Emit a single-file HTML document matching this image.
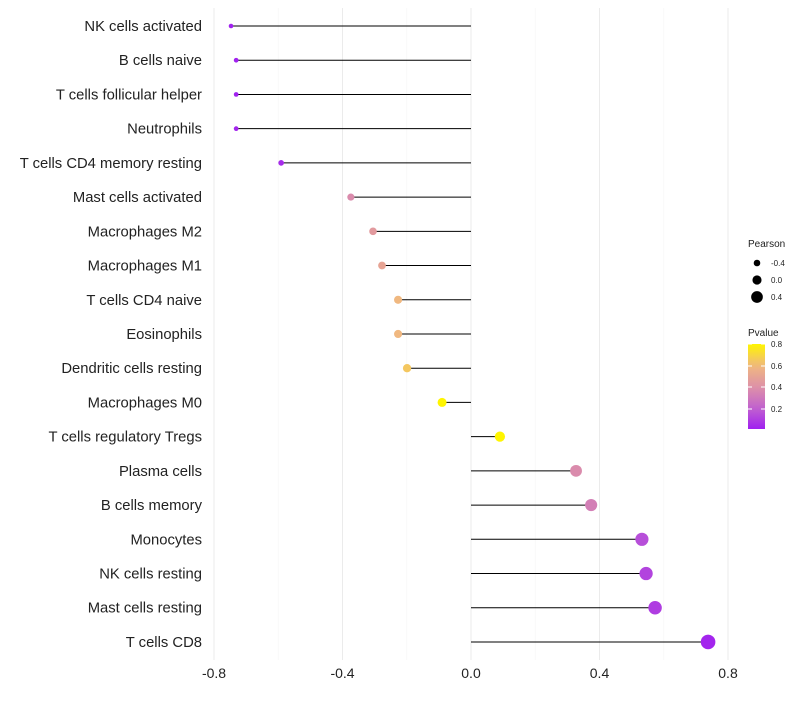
<!DOCTYPE html>
<html><head><meta charset="utf-8"><style>
body{margin:0;background:#fff;font-family:"Liberation Sans",sans-serif;}
</style></head><body>
<svg id="chart" width="800" height="700" xmlns="http://www.w3.org/2000/svg"></svg>
<script>
const categories=["NK cells activated","B cells naive","T cells follicular helper","Neutrophils","T cells CD4 memory resting","Mast cells activated","Macrophages M2","Macrophages M1","T cells CD4 naive","Eosinophils","Dendritic cells resting","Macrophages M0","T cells regulatory  Tregs ","Plasma cells","B cells memory","Monocytes","NK cells resting","Mast cells resting","T cells CD8"];
const pearson=[-0.747,-0.731,-0.731,-0.731,-0.591,-0.374,-0.305,-0.277,-0.227,-0.227,-0.199,-0.090,0.090,0.327,0.374,0.532,0.545,0.573,0.738];
const pvalue=[0.02,0.02,0.02,0.03,0.05,0.38,0.45,0.5,0.6,0.6,0.65,0.8,0.8,0.38,0.33,0.15,0.12,0.1,0.03];
const xTicks=[-0.8,-0.4,0.0,0.4,0.8];
const xTickLabels=["-0.8","-0.4","0.0","0.4","0.8"];
const svg=document.getElementById('chart');
const NS="http://www.w3.org/2000/svg";
const x=v=>471+v*321.25;
const y=i=>26+i*34.22;
const rad=v=>2.3+(v+0.75)/1.49*5;
const stops=[[0.015,[160,32,240]],[0.2,[192,96,208]],[0.4,[221,144,168]],[0.6,[240,184,128]],[0.8,[255,245,0]]];
function col(p){p=Math.max(0.015,Math.min(0.8,p));for(let k=1;k<stops.length;k++){if(p<=stops[k][0]){const a=stops[k-1],b=stops[k];const t=(p-a[0])/(b[0]-a[0]);return `rgb(${[0,1,2].map(j=>Math.round(a[1][j]+(b[1][j]-a[1][j])*t)).join(',')})`;}}return 'rgb(255,245,0)';}
function mk(tag,attrs,parent){const e=document.createElementNS(NS,tag);for(const k in attrs)e.setAttribute(k,attrs[k]);(parent||svg).appendChild(e);return e;}
for(let v=-0.8;v<=0.81;v+=0.2){const l=mk('line',{x1:x(v),x2:x(v),y1:8,y2:660,stroke:Math.abs(Math.round(v*10))%4===0?'#ebebeb':'#f5f5f5','stroke-width':Math.abs(Math.round(v*10))%4===0?1:0.6});

}
xTicks.forEach((v,i)=>{const t=mk('text',{x:x(v),y:678,'text-anchor':'middle','font-size':14,fill:'#222'});t.textContent=xTickLabels[i];

});
categories.forEach((c,i)=>{
const t=mk('text',{x:202,y:y(i)+5,'text-anchor':'end','font-size':14.8,fill:'#222'});t.textContent=c;


const l=mk('line',{x1:x(0),x2:x(pearson[i]),y1:y(i),y2:y(i),stroke:'#000','stroke-width':1});


const p=mk('circle',{cx:x(pearson[i]),cy:y(i),r:rad(pearson[i]),fill:col(pvalue[i])});


});
const lg=mk('g',{});


const lt=mk('text',{x:748,y:247,'font-size':10,fill:'#222'},lg);lt.textContent='Pearson';
[[-0.4,263],[0.0,280],[0.4,297]].forEach(([v,yy])=>{mk('circle',{cx:757,cy:yy,r:rad(v)*0.95,fill:'#000'},lg);const t=mk('text',{x:771,y:yy+3,'font-size':8,fill:'#222'},lg);t.textContent=v.toFixed(1);});
const pt=mk('text',{x:748,y:336,'font-size':10,fill:'#222'},lg);pt.textContent='Pvalue';
const defs=mk('defs',{});const g=mk('linearGradient',{id:'pg',x1:0,y1:1,x2:0,y2:0},defs);
for(let s=0;s<=1.001;s+=0.1)mk('stop',{offset:s,'stop-color':col(0.015+s*(0.8-0.015))},g);
mk('rect',{x:748,y:344,width:17,height:85,fill:'url(#pg)'},lg);
[[0.8,344],[0.6,366],[0.4,387],[0.2,409]].forEach(([v,yy])=>{mk('line',{x1:748,x2:752,y1:yy,y2:yy,stroke:'#fff'},lg);mk('line',{x1:761,x2:765,y1:yy,y2:yy,stroke:'#fff'},lg);const t=mk('text',{x:771,y:yy+3,'font-size':8,fill:'#222'},lg);t.textContent=v.toFixed(1);});
</script>
</body></html>
